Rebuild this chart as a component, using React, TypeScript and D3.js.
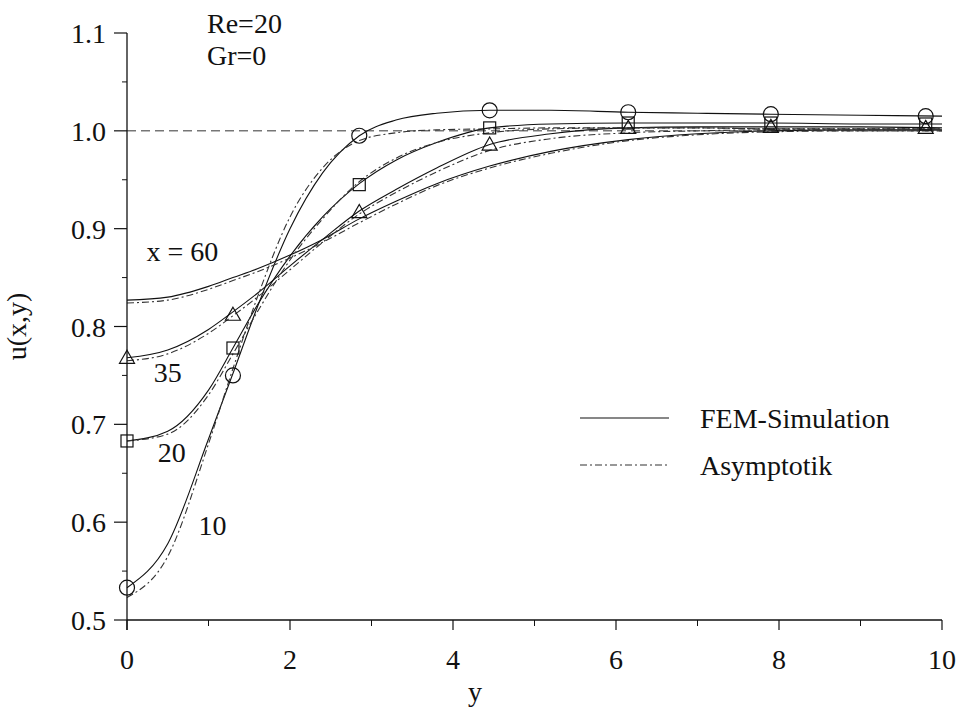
import React from "react";
import * as d3 from "d3";

const ySamples = [0, 0.5, 1, 1.3, 1.6, 2, 2.4, 2.85, 3.3, 3.8, 4.45, 5.2, 6.15, 7, 7.9, 9, 10];

const fem10 = [0.533, 0.578, 0.685, 0.752, 0.82, 0.9, 0.957, 0.995, 1.011, 1.018, 1.021, 1.021, 1.019, 1.018, 1.017, 1.016, 1.015];
const asym10 = [0.523, 0.565, 0.68, 0.757, 0.83, 0.912, 0.962, 0.99, 0.998, 1.001, 1.002, 1.003, 1.003, 1.003, 1.002, 1.002, 1.002];
const fem20 = [0.683, 0.693, 0.735, 0.778, 0.822, 0.872, 0.912, 0.946, 0.97, 0.988, 1.003, 1.007, 1.008, 1.008, 1.008, 1.007, 1.007];
const asym20 = [0.683, 0.69, 0.73, 0.772, 0.815, 0.868, 0.91, 0.948, 0.972, 0.988, 0.998, 1.002, 1.003, 1.003, 1.002, 1.002, 1.002];
const fem35 = [0.768, 0.776, 0.797, 0.815, 0.834, 0.862, 0.889, 0.918, 0.94, 0.962, 0.986, 0.997, 1.003, 1.004, 1.004, 1.004, 1.003];
const asym35 = [0.765, 0.772, 0.793, 0.811, 0.83, 0.858, 0.886, 0.915, 0.937, 0.958, 0.98, 0.992, 0.998, 1.0, 1.001, 1.001, 1.001];
const fem60 = [0.827, 0.83, 0.841, 0.85, 0.859, 0.873, 0.889, 0.91, 0.928, 0.946, 0.964, 0.979, 0.991, 0.997, 1.0, 1.001, 1.001];
const asym60 = [0.824, 0.827, 0.838, 0.847, 0.856, 0.87, 0.886, 0.906, 0.925, 0.944, 0.962, 0.977, 0.99, 0.996, 0.999, 1.0, 1.0];

const markerY = [0, 1.3, 2.85, 4.45, 6.15, 7.9, 9.8];
const circleU = [0.533, 0.75, 0.995, 1.021, 1.019, 1.017, 1.015];
const squareU = [0.683, 0.778, 0.945, 1.003, 1.008, 1.008, 1.007];
const triangleU = [0.768, 0.812, 0.917, 0.986, 1.003, 1.004, 1.003];

const curveLabels = [
  { text: "x = 60", y: 0.68, u: 0.877 },
  { text: "35", y: 0.5, u: 0.753 },
  { text: "20", y: 0.55, u: 0.672 },
  { text: "10", y: 1.05, u: 0.597 },
];

const legendItems = ["FEM-Simulation", "Asymptotik"];

const yMajor = [0.5, 0.6, 0.7, 0.8, 0.9, 1.0, 1.1];
const yMinor = [0.55, 0.65, 0.75, 0.85, 0.95, 1.05];
const xMajor = [0, 2, 4, 6, 8, 10];
const xMinor = [1, 3, 5, 7, 9];

const FONT = "'Liberation Serif', 'Times New Roman', Times, serif";

export default function App() {
  const x = d3.scaleLinear().domain([0, 10]).range([127, 942]);
  const y = d3.scaleLinear().domain([0.5, 1.1]).range([620, 33]);
  const line = d3
    .line<number>()
    .x((_, i) => x(ySamples[i]))
    .y((d) => y(d))
    .curve(d3.curveMonotoneX);

  const femSeries = [fem10, fem20, fem35, fem60];
  const asymSeries = [asym10, asym20, asym35, asym60];
  const dashDot = "7,3,2,3";
  const ink = "#111";
  const fs = 28;

  return (
    <svg width={958} height={712} style={{ position: "absolute", left: 0, top: 0, background: "#fff" }} fontFamily={FONT}>
      <line x1={x(0)} x2={x(10)} y1={y(1)} y2={y(1)} stroke="#333" strokeWidth={1} strokeDasharray="9,5" />

      {femSeries.map((s, i) => (
        <path key={"f" + i} d={line(s) || ""} fill="none" stroke={ink} strokeWidth={1.1} />
      ))}
      {asymSeries.map((s, i) => (
        <path key={"a" + i} d={line(s) || ""} fill="none" stroke="#333" strokeWidth={1.1} strokeDasharray={dashDot} />
      ))}

      {markerY.map((yy, i) => (
        <circle key={"c" + i} cx={x(yy)} cy={y(circleU[i])} r={7.5} fill="none" stroke={ink} strokeWidth={1.2} />
      ))}
      {markerY.map((yy, i) => (
        <rect key={"s" + i} x={x(yy) - 6} y={y(squareU[i]) - 6} width={12} height={12} fill="none" stroke={ink} strokeWidth={1.2} />
      ))}
      {markerY.map((yy, i) => {
        const cx = x(yy);
        const cy = y(triangleU[i]);
        return (
          <path key={"t" + i} d={`M${cx},${cy - 7.5}L${cx + 7.5},${cy + 5.5}L${cx - 7.5},${cy + 5.5}Z`} fill="none" stroke={ink} strokeWidth={1.2} />
        );
      })}

      <line x1={x(0)} x2={x(0)} y1={y(1.1)} y2={y(0.5) + 10} stroke={ink} strokeWidth={1.3} />
      <line x1={x(0)} x2={x(10)} y1={y(0.5)} y2={y(0.5)} stroke={ink} strokeWidth={1.3} />
      {yMajor.map((v) => (
        <g key={"ym" + v}>
          <line x1={x(0) - 13} x2={x(0)} y1={y(v)} y2={y(v)} stroke={ink} strokeWidth={1.2} />
          <text x={106} y={y(v)} dy="0.36em" textAnchor="end" fontSize={fs} fill={ink}>
            {v.toFixed(1)}
          </text>
        </g>
      ))}
      {yMinor.map((v) => (
        <line key={"yn" + v} x1={x(0) - 5} x2={x(0)} y1={y(v)} y2={y(v)} stroke={ink} strokeWidth={1} />
      ))}
      {xMajor.map((v) => (
        <g key={"xm" + v}>
          <line x1={x(v)} x2={x(v)} y1={y(0.5)} y2={y(0.5) + 10} stroke={ink} strokeWidth={1.2} />
          <text x={x(v)} y={669} textAnchor="middle" fontSize={fs} fill={ink}>
            {v}
          </text>
        </g>
      ))}
      {xMinor.map((v) => (
        <line key={"xn" + v} x1={x(v)} x2={x(v)} y1={y(0.5)} y2={y(0.5) + 6} stroke={ink} strokeWidth={1} />
      ))}

      <text x={475} y={701} textAnchor="middle" fontSize={fs} fill={ink}>y</text>
      <text transform={`translate(26,${y(0.8)}) rotate(-90)`} textAnchor="middle" fontSize={fs} fill={ink}>
        u(x,y)
      </text>

      <text x={207} y={33} fontSize={fs} fill={ink}>Re=20</text>
      <text x={207} y={65} fontSize={fs} fill={ink}>Gr=0</text>

      {curveLabels.map((l) => (
        <text key={l.text} x={x(l.y)} y={y(l.u)} textAnchor="middle" dy="0.35em" fontSize={fs} fill={ink}>
          {l.text}
        </text>
      ))}

      {legendItems.map((name, i) => (
        <g key={name} transform={`translate(0,${418 + i * 47})`}>
          <line x1={580} x2={669} y1={0} y2={0} stroke={i === 0 ? ink : "#333"} strokeWidth={1.1} strokeDasharray={i === 0 ? undefined : dashDot} />
          <text x={700} y={0} dy="0.35em" fontSize={fs} fill={ink}>{name}</text>
        </g>
      ))}
    </svg>
  );
}
